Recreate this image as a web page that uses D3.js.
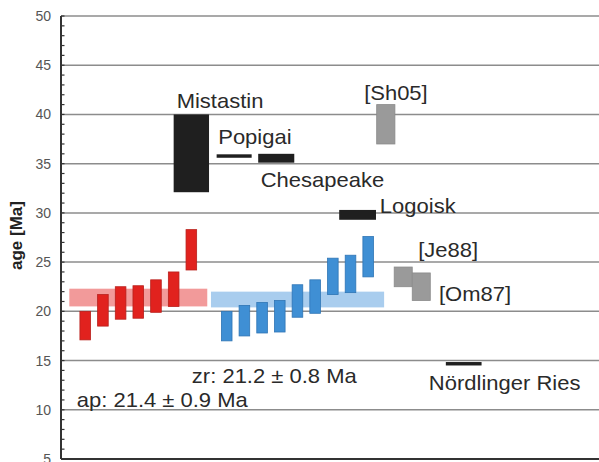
<!DOCTYPE html>
<html>
<head>
<meta charset="utf-8">
<script src="https://cdn.jsdelivr.net/npm/d3@7"></script>
<style>
  html, body { margin: 0; padding: 0; background: #fff; }
  svg { display: block; }
  text { font-family: "Liberation Sans", Arial, Helvetica, sans-serif; }
</style>
</head>
<body>
<div id="chart"></div>
<script>
// Apatite (ap) fission-track ages, [min, max] in Ma
const apMin = [17.1, 18.5, 19.2, 19.3, 19.9, 20.5, 24.2];
const apMax = [20.0, 21.7, 22.5, 22.6, 23.2, 24.0, 28.3];
// Zircon (zr) ages, [min, max] in Ma
const zrMin = [17.0, 17.5, 17.8, 17.9, 19.4, 19.8, 21.7, 21.9, 23.5];
const zrMax = [20.0, 20.6, 20.9, 21.1, 22.7, 23.2, 25.4, 25.7, 27.6];
// Weighted means
const apMean = 21.4, apErr = 0.9;
const zrMean = 21.2, zrErr = 0.8;
// Impact events
const craterNames = ["Mistastin", "Popigai", "Chesapeake", "Logoisk", "Nördlinger Ries"];
const craterMin = [32.1, 35.6, 35.1, 29.3, 14.5];
const craterMax = [40.0, 35.95, 36.0, 30.3, 14.85];
// Published tektite ages
const refNames = ["[Sh05]", "[Je88]", "[Om87]"];
const refMin = [37.0, 22.5, 21.1];
const refMax = [41.0, 24.5, 23.9];
// Axis ticks
const majorTicks = [5, 10, 15, 20, 25, 30, 35, 40, 45, 50];
const yTitle = "age [Ma]";

const W = 599, H = 462;
const svg = d3.select("#chart").append("svg").attr("width", W).attr("height", H);

const y = d3.scaleLinear().domain([5, 50]).range([459, 16]);
// x runs over sample slots
const x = d3.scaleLinear().domain([-1.37, 29.05]).range([61, 599]);

// slot layout along x
const apSlot = apMin.map((_, i) => i);
const zrSlot = zrMin.map((_, i) => i + 8);
const craterSlot = [[5, 7], [7.43, 9.41], [9.78, 11.82], [14.36, 16.44], [20.39, 22.41]];
const refSlot = [[16.48, 17.51], [17.47, 18.49], [18.49, 19.51]];
const barHalf = 0.3;

// horizontal grid lines
svg.append("g").selectAll("line")
  .data(majorTicks.filter(t => t > 5))
  .join("line")
  .attr("x1", x(-1.37)).attr("x2", W)
  .attr("y1", d => y(d)).attr("y2", d => y(d))
  .attr("stroke", "#8c8c8c").attr("stroke-width", 1.5);

// mean bands
svg.append("rect")
  .attr("x", x(-0.9)).attr("width", x(6.9) - x(-0.9))
  .attr("y", y(apMean + apErr)).attr("height", y(apMean - apErr) - y(apMean + apErr))
  .attr("fill", "#f29a9a");
svg.append("rect")
  .attr("x", x(7.11)).attr("width", x(16.9) - x(7.11))
  .attr("y", y(zrMean + zrErr)).attr("height", y(zrMean - zrErr) - y(zrMean + zrErr))
  .attr("fill", "#a9cdee");

// apatite bars
svg.append("g").selectAll("rect")
  .data(apMin.map((m, i) => ({ lo: m, hi: apMax[i], s: apSlot[i] })))
  .join("rect")
  .attr("x", d => x(d.s - barHalf)).attr("width", x(barHalf) - x(-barHalf))
  .attr("y", d => y(d.hi)).attr("height", d => y(d.lo) - y(d.hi))
  .attr("fill", "#e1221e").attr("stroke", "#b8201c").attr("stroke-width", 0.8);

// zircon bars
svg.append("g").selectAll("rect")
  .data(zrMin.map((m, i) => ({ lo: m, hi: zrMax[i], s: zrSlot[i] })))
  .join("rect")
  .attr("x", d => x(d.s - barHalf)).attr("width", x(barHalf) - x(-barHalf))
  .attr("y", d => y(d.hi)).attr("height", d => y(d.lo) - y(d.hi))
  .attr("fill", "#3f8fd4").attr("stroke", "#2f75b5").attr("stroke-width", 0.8);

// crater ages
svg.append("g").selectAll("rect")
  .data(craterMin.map((m, i) => ({ lo: m, hi: craterMax[i], s: craterSlot[i] })))
  .join("rect")
  .attr("x", d => x(d.s[0])).attr("width", d => x(d.s[1]) - x(d.s[0]))
  .attr("y", d => y(d.hi)).attr("height", d => y(d.lo) - y(d.hi))
  .attr("fill", "#1f1f1f");

// reference tektite ages
svg.append("g").selectAll("rect")
  .data(refMin.map((m, i) => ({ lo: m, hi: refMax[i], s: refSlot[i] })))
  .join("rect")
  .attr("x", d => x(d.s[0])).attr("width", d => x(d.s[1]) - x(d.s[0]))
  .attr("y", d => y(d.hi)).attr("height", d => y(d.lo) - y(d.hi))
  .attr("fill", "#9a9a9a").attr("stroke", "#8a8a8a").attr("stroke-width", 0.8);

// y axis with inward minor ticks
const axis = d3.axisLeft(y).tickValues(majorTicks).tickSize(0).tickPadding(10);
const gA = svg.append("g").attr("transform", `translate(${x(-1.37)},0)`).call(axis);
gA.select(".domain").remove();
gA.selectAll("text").attr("font-size", 14).attr("fill", "#555")
  .style("font-family", '"Liberation Sans", Arial, sans-serif');
svg.append("g").selectAll("line")
  .data(d3.range(5, 51, 1))
  .join("line")
  .attr("x1", x(-1.37)).attr("x2", x(-1.37) + 3.5)
  .attr("y1", d => y(d)).attr("y2", d => y(d))
  .attr("stroke", "#333").attr("stroke-width", 1.2);
svg.append("line")
  .attr("x1", x(-1.37)).attr("x2", x(-1.37))
  .attr("y1", y(50)).attr("y2", y(5))
  .attr("stroke", "#333").attr("stroke-width", 2);
svg.append("line")
  .attr("x1", x(-1.37)).attr("x2", W)
  .attr("y1", y(5)).attr("y2", y(5))
  .attr("stroke", "#333").attr("stroke-width", 2);

svg.append("text")
  .attr("transform", `translate(22,${y(27.7)}) rotate(-90)`)
  .attr("text-anchor", "middle")
  .attr("font-size", 17).attr("font-weight", "bold").attr("fill", "#222")
  .text(yTitle);

// annotations
const labels = [
  { t: craterNames[0], s: 5.17, a: 40.62 },
  { t: craterNames[1], s: 7.52, a: 36.96 },
  { t: craterNames[2], s: 9.92, a: 32.65 },
  { t: craterNames[3], s: 16.66, a: 29.98 },
  { t: craterNames[4], s: 19.43, a: 11.99 },
  { t: refNames[0], s: 15.77, a: 41.46 },
  { t: refNames[1], s: 18.83, a: 25.54 },
  { t: refNames[2], s: 20.0, a: 21.07 },
  { t: `zr: ${zrMean} ± ${zrErr} Ma`, s: 6.03, a: 12.67 },
  { t: `ap: ${apMean} ± ${apErr} Ma`, s: -0.48, a: 10.3 }
];
svg.append("g").selectAll("text")
  .data(labels)
  .join("text")
  .attr("transform", d => `translate(${x(d.s)},${y(d.a)}) scale(1.1,1)`)
  .attr("font-size", 20).attr("fill", "#2a2a2a")
  .text(d => d.t);
</script>
</body>
</html>
